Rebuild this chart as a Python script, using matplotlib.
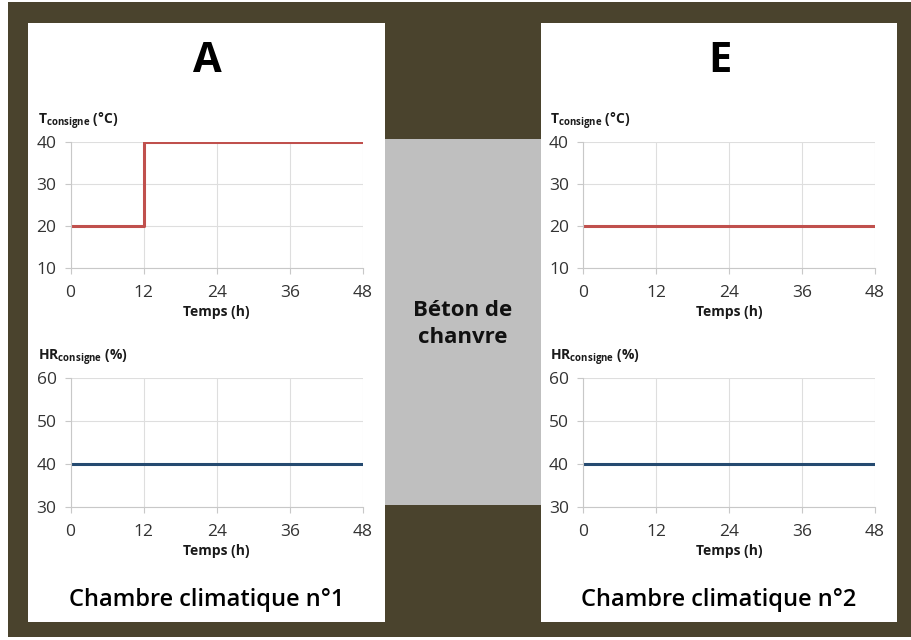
import matplotlib
matplotlib.use("Agg")
import matplotlib.pyplot as plt
from matplotlib.patches import Rectangle

# Set-point data (time in hours)
time_a = [0, 12, 48]
temp_a = [20, 40, 40]
time_e = [0, 48]
temp_e = [20, 20]
time_hr = [0, 48]
hr_a = [40, 40]
hr_e = [40, 40]

x_ticks = [0, 12, 24, 36, 48]
t_ticks = [10, 20, 30, 40]
hr_ticks = [30, 40, 50, 60]

panel_titles = ["A", "E"]
chamber_labels = ["Chambre climatique n°1", "Chambre climatique n°2"]
center_label = "Béton de\nchanvre"
x_label = "Temps (h)"
t_label = r"$\mathbf{T}_{\mathbf{consigne}}$ (°C)"
hr_label = r"$\mathbf{HR}_{\mathbf{consigne}}$ (%)"

plt.rcParams["font.family"] = ["Open Sans", "DejaVu Sans"]
plt.rcParams["mathtext.fontset"] = "custom"
plt.rcParams["mathtext.rm"] = "Open Sans"
plt.rcParams["mathtext.bf"] = "Open Sans:bold"

W, H = 912, 640
fig = plt.figure(figsize=(W / 100, H / 100), dpi=100)
fig.patch.set_facecolor("white")

OLIVE = "#4a432d"
RED = "#c0504d"
BLUE = "#254a70"
GRID = "#dedede"
TXT = "#333333"


def px_rect(x0, y0, x1, y1, color, z=0):
    fig.patches.append(Rectangle((x0 / W, 1 - y1 / H), (x1 - x0) / W, (y1 - y0) / H,
                                 transform=fig.transFigure, facecolor=color,
                                 edgecolor="none", zorder=z))


def px_text(x, y, s, **kw):
    fig.text(x / W, 1 - y / H, s, **kw)


# background frame, white panels and central material block
px_rect(8, 2, 912, 637, OLIVE, 0)
px_rect(28, 23, 385, 622, "white", 1)
px_rect(541, 23, 897, 622, "white", 1)
px_rect(385, 139, 541, 505, "#bfbfbf", 1)


def make_axes(x0, x1, y0, y1):
    ax = fig.add_axes([x0 / W, 1 - y1 / H, (x1 - x0) / W, (y1 - y0) / H])
    ax.set_facecolor("none")
    ax.set_zorder(3)
    ax.grid(True, color=GRID, lw=0.8)
    ax.set_axisbelow(True)
    for side in ("top", "right"):
        ax.spines[side].set_visible(False)
    for side in ("left", "bottom"):
        ax.spines[side].set_color("#c8c8c8")
        ax.spines[side].set_linewidth(0.8)
    ax.tick_params(axis="both", length=4, width=0.8, color="#c8c8c8",
                   labelsize=12.5, labelcolor=TXT, pad=6)
    ax.tick_params(axis="x", pad=8)
    ax.set_xlim(0, 48)
    ax.set_xticks(x_ticks)
    ax.set_xlabel(x_label, fontsize=10, fontweight="bold", color="#1a1a1a", labelpad=3)
    return ax


panels = [
    (70.5, 363, time_a, temp_a, hr_a),
    (583, 875, time_e, temp_e, hr_e),
]

for (x0, x1, tt, tv, hv), title, chamber in zip(panels, panel_titles, chamber_labels):
    ax_t = make_axes(x0, x1, 141.5, 268)
    ax_t.step(tt, tv, where="post", color=RED, lw=2.2)
    ax_t.set_ylim(10, 40)
    ax_t.set_yticks(t_ticks)

    ax_h = make_axes(x0, x1, 378, 507)
    ax_h.plot(time_hr, hv, color=BLUE, lw=2.2)
    ax_h.set_ylim(30, 60)
    ax_h.set_yticks(hr_ticks)

    px_text(x0 - 33, 121, t_label, fontsize=10, fontweight="bold", color="#1a1a1a",
            ha="left", va="center", zorder=4)
    px_text(x0 - 33, 358, hr_label, fontsize=10, fontweight="bold", color="#1a1a1a",
            ha="left", va="center", zorder=4)

    cx = (x0 + x1) / 2 - 9
    px_text(cx, 62, title, fontsize=30, fontweight="bold", color="black",
            ha="center", va="center", zorder=4)
    px_text(cx - 1, 600, chamber, fontsize=17, fontweight="semibold", color="black",
            ha="center", va="center", zorder=4)

px_text(463, 324, center_label, fontsize=16, fontweight="bold", color="#111111",
        ha="center", va="center", linespacing=1.4, zorder=4)

fig.savefig("out.png", dpi=100, facecolor=fig.get_facecolor())
